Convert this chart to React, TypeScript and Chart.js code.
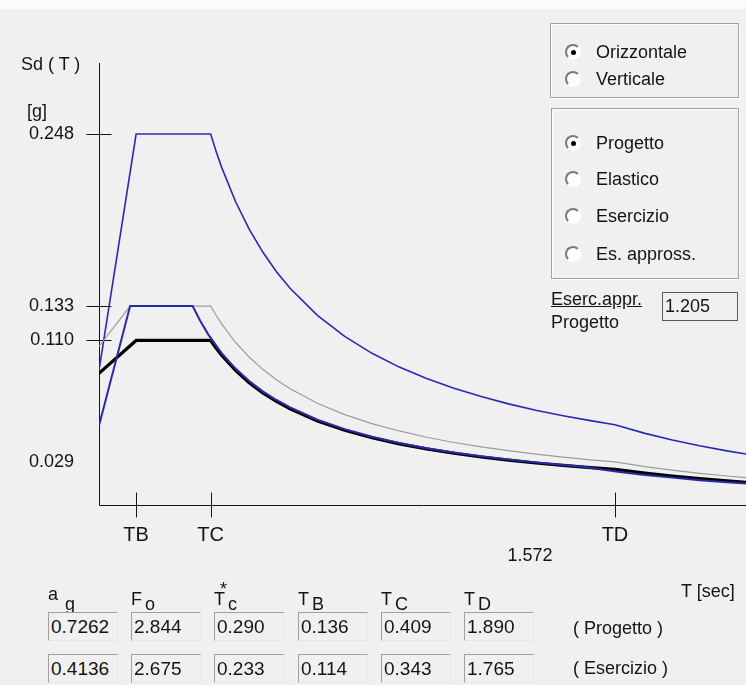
import React, { useEffect, useRef } from 'react';
import { Chart, registerables } from 'chart.js';

Chart.register(...registerables);

const FONT = '"Liberation Sans", Arial, sans-serif';

// ---- Data (periods T [sec], spectral values Sd [g]) ----
const elasticoT = [0, 0.136, 0.409, 0.43, 0.45, 0.5, 0.55, 0.6, 0.65, 0.7, 0.8, 0.9, 1.0, 1.1, 1.2, 1.3, 1.4, 1.5, 1.6, 1.7, 1.8, 1.89, 2.0, 2.1, 2.2, 2.3, 2.37];
const elasticoSd = [0.090, 0.248, 0.248, 0.2359, 0.2254, 0.2029, 0.1844, 0.1691, 0.1560, 0.1449, 0.1268, 0.1127, 0.1014, 0.0922, 0.0845, 0.0780, 0.0725, 0.0676, 0.0634, 0.0597, 0.0564, 0.0537, 0.0479, 0.0435, 0.0396, 0.0362, 0.0341];

const progettoT = [0, 0.136, 0.409, 0.43, 0.45, 0.5, 0.55, 0.6, 0.65, 0.7, 0.8, 0.9, 1.0, 1.1, 1.2, 1.3, 1.4, 1.5, 1.6, 1.7, 1.8, 1.89, 2.0, 2.1, 2.2, 2.3, 2.37];
const progettoSd = [0.088, 0.110, 0.110, 0.1046, 0.1000, 0.0900, 0.0818, 0.0750, 0.0692, 0.0643, 0.0562, 0.0500, 0.0450, 0.0409, 0.0375, 0.0346, 0.0321, 0.0300, 0.0281, 0.0265, 0.0250, 0.0238, 0.0213, 0.0193, 0.0176, 0.0161, 0.0151];

const approxT = [0, 0.114, 0.409, 0.43, 0.45, 0.5, 0.55, 0.6, 0.65, 0.7, 0.8, 0.9, 1.0, 1.1, 1.2, 1.3, 1.4, 1.5, 1.6, 1.7, 1.8, 1.89, 2.0, 2.1, 2.2, 2.3, 2.37];
const approxSd = [0.106, 0.133, 0.133, 0.1265, 0.1209, 0.1088, 0.0989, 0.0907, 0.0837, 0.0777, 0.0680, 0.0604, 0.0544, 0.0495, 0.0453, 0.0418, 0.0389, 0.0363, 0.0340, 0.0320, 0.0302, 0.0288, 0.0257, 0.0233, 0.0212, 0.0194, 0.0183];

const esercizioT = [0, 0.114, 0.343, 0.37, 0.4, 0.45, 0.5, 0.55, 0.6, 0.65, 0.7, 0.8, 0.9, 1.0, 1.1, 1.2, 1.3, 1.4, 1.5, 1.6, 1.7, 1.765, 1.9, 2.0, 2.1, 2.2, 2.3, 2.37];
const esercizioSd = [0.053, 0.133, 0.133, 0.1233, 0.1141, 0.1014, 0.0912, 0.0829, 0.0760, 0.0702, 0.0652, 0.0570, 0.0507, 0.0456, 0.0415, 0.0380, 0.0351, 0.0326, 0.0304, 0.0285, 0.0268, 0.0258, 0.0223, 0.0201, 0.0183, 0.0166, 0.0152, 0.0143];

const yTickValues = [0.029, 0.110, 0.133, 0.248];
const yTickLabels = ['0.029', '0.110', '0.133', '0.248'];
const yMarkedValues = [0.110, 0.133, 0.248];
const xTickValues = [0.136, 0.409, 1.890];
const xTickLabels = ['TB', 'TC', 'TD'];
const X_MAX = 2.37;
const Y_MAX = 0.2955;
const cursorLabel = '1.572';

const paramNames = [
  { main: 'a', sub: 'g', sup: '' },
  { main: 'F', sub: 'o', sup: '' },
  { main: 'T', sub: 'c', sup: '*' },
  { main: 'T', sub: 'B', sup: '' },
  { main: 'T', sub: 'C', sup: '' },
  { main: 'T', sub: 'D', sup: '' },
];
const progettoParams = ['0.7262', '2.844', '0.290', '0.136', '0.409', '1.890'];
const esercizioParams = ['0.4136', '2.675', '0.233', '0.114', '0.343', '1.765'];
const rapportoEsercProg = '1.205';

const axesPlugin = {
  id: 'crossAxes',
  beforeDatasetsDraw(chart: any) {
    const { ctx, chartArea, scales } = chart;
    const x = scales.x;
    const y = scales.y;
    const x0 = Math.round(x.getPixelForValue(0)) + 0.5;
    const y0 = Math.round(y.getPixelForValue(0)) + 0.5;
    ctx.save();
    ctx.strokeStyle = '#141414';
    ctx.lineWidth = 1;
    ctx.beginPath();
    ctx.moveTo(x0, chartArea.top);
    ctx.lineTo(x0, y0);
    ctx.lineTo(chartArea.right + 2, y0);
    yMarkedValues.forEach((v) => {
      const p = Math.round(y.getPixelForValue(v)) + 0.5;
      ctx.moveTo(x0 - 13, p);
      ctx.lineTo(x0 + 12, p);
    });
    xTickValues.forEach((v) => {
      const p = Math.round(x.getPixelForValue(v)) + 0.5;
      ctx.moveTo(p, y0 - 13);
      ctx.lineTo(p, y0 + 12);
    });
    ctx.stroke();
    ctx.restore();
  },
};

const txt = (size: number): React.CSSProperties => ({
  position: 'absolute',
  fontFamily: FONT,
  fontSize: size,
  lineHeight: `${size}px`,
  color: '#141414',
  whiteSpace: 'nowrap',
});

function Label({ x, cy, size = 18, children, style }: any) {
  return <div style={{ ...txt(size), left: x, top: cy - size / 2, ...style }}>{children}</div>;
}

function Radio({ cx, cy, checked }: any) {
  return (
    <div
      style={{
        position: 'absolute',
        left: cx - 8,
        top: cy - 8,
        width: 12,
        height: 12,
        borderRadius: '50%',
        background: '#ffffff',
        borderStyle: 'solid',
        borderWidth: 2,
        borderColor: '#7a7a7a #ffffff #ffffff #7a7a7a',
        boxSizing: 'content-box',
      }}
    >
      {checked && (
        <div
          style={{
            position: 'absolute',
            left: 3.5,
            top: 3.5,
            width: 5,
            height: 5,
            borderRadius: '50%',
            background: '#000',
          }}
        />
      )}
    </div>
  );
}

function GroupBox({ x, y, w, h }: any) {
  return (
    <div
      style={{
        position: 'absolute',
        left: x,
        top: y,
        width: w,
        height: h,
        border: '1px solid #a0a0a0',
        boxShadow: 'inset 1px 1px 0 #ffffff, 1px 1px 0 #ffffff',
        boxSizing: 'border-box',
      }}
    />
  );
}

function ValueBox({ x, y, w, h, value, size = 19, dark = false }: any) {
  return (
    <div
      style={{
        position: 'absolute',
        left: x,
        top: y,
        width: w,
        height: h,
        boxSizing: 'border-box',
        borderStyle: 'solid',
        borderWidth: 1,
        borderColor: dark ? '#5a5a5a' : '#a0a0a0 #e8e8e8 #e8e8e8 #a0a0a0',
        background: '#f0f0f0',
        fontFamily: FONT,
        fontSize: size,
        lineHeight: `${h - 2}px`,
        paddingLeft: 2,
        color: '#141414',
        whiteSpace: 'nowrap',
      }}
    >
      {value}
    </div>
  );
}

export default function App() {
  const canvasRef = useRef<HTMLCanvasElement | null>(null);

  useEffect(() => {
    document.body.style.margin = '0';
    document.body.style.background = '#f0f0f0';
    const canvas = canvasRef.current;
    if (!canvas) return;
    const pts = (ts: number[], vs: number[]) => ts.map((t, i) => ({ x: t, y: vs[i] }));
    const chart = new Chart(canvas, {
      type: 'line',
      data: {
        datasets: [
          { label: 'Esercizio', data: pts(esercizioT, esercizioSd), borderColor: '#2a2aa8', borderWidth: 2, pointRadius: 0, tension: 0 },
          { label: 'Progetto', data: pts(progettoT, progettoSd), borderColor: '#000000', borderWidth: 3.2, pointRadius: 0, tension: 0 },
          { label: 'Es. appross.', data: pts(approxT, approxSd), borderColor: '#9c9c9c', borderWidth: 1.2, pointRadius: 0, tension: 0 },
          { label: 'Elastico', data: pts(elasticoT, elasticoSd), borderColor: '#2a2ab0', borderWidth: 1.6, pointRadius: 0, tension: 0 },
        ],
      },
      options: {
        responsive: false,
        animation: false,
        events: [],
        layout: { padding: { top: 63, right: 0, left: 0, bottom: 0 } },
        plugins: { legend: { display: false }, tooltip: { enabled: false } },
        scales: {
          x: {
            type: 'linear',
            min: 0,
            max: X_MAX,
            grid: { display: false, drawTicks: false },
            border: { display: false },
            afterBuildTicks: (s: any) => {
              s.ticks = xTickValues.map((v) => ({ value: v }));
            },
            afterFit: (s: any) => {
              s.height = 183;
            },
            ticks: {
              autoSkip: false,
              maxRotation: 0,
              padding: 18,
              color: '#141414',
              font: { family: FONT, size: 20 },
              callback: (_v: any, i: number) => xTickLabels[i],
            },
          },
          y: {
            type: 'linear',
            min: 0,
            max: Y_MAX,
            grid: { display: false, drawTicks: false },
            border: { display: false },
            afterBuildTicks: (s: any) => {
              s.ticks = yTickValues.map((v) => ({ value: v }));
            },
            afterFit: (s: any) => {
              s.width = 99;
            },
            ticks: {
              autoSkip: false,
              padding: 25,
              color: '#141414',
              font: { family: FONT, size: 18 },
              callback: (_v: any, i: number) => yTickLabels[i],
            },
          },
        },
      },
      plugins: [axesPlugin],
    });
    return () => chart.destroy();
  }, []);

  const colLefts = [48, 131, 214, 298, 381, 464];

  return (
    <div style={{ position: 'relative', width: 746, height: 688, background: '#f0f0f0', overflow: 'hidden' }}>
      <div style={{ position: 'absolute', left: 0, top: 0, width: 746, height: 9, background: '#fbfbfb' }} />
      <div style={{ position: 'absolute', left: 0, top: 685, width: 746, height: 3, background: '#ffffff' }} />
      <canvas ref={canvasRef} width={746} height={688} style={{ position: 'absolute', left: 0, top: 0 }} />

      <Label x={21} cy={64}>Sd ( T )</Label>
      <Label x={27} cy={111}>[g]</Label>
      <Label x={530} cy={555} style={{ transform: 'translateX(-50%)' }}>{cursorLabel}</Label>
      <Label x={681} cy={591}>T [sec]</Label>

      <GroupBox x={550} y={23} w={189} h={75} />
      <Radio cx={573} cy={52} checked />
      <Label x={596} cy={52}>Orizzontale</Label>
      <Radio cx={573} cy={79} />
      <Label x={596} cy={79}>Verticale</Label>

      <GroupBox x={551} y={108} w={188} h={171} />
      <Radio cx={573} cy={143} checked />
      <Label x={596} cy={143}>Progetto</Label>
      <Radio cx={573} cy={179} />
      <Label x={596} cy={179}>Elastico</Label>
      <Radio cx={573} cy={216} />
      <Label x={596} cy={216}>Esercizio</Label>
      <Radio cx={573} cy={254} />
      <Label x={596} cy={254}>Es. appross.</Label>

      <Label x={551} cy={299} style={{ textDecoration: 'underline' }}>Eserc.appr.</Label>
      <Label x={551} cy={322}>Progetto</Label>
      <ValueBox x={662} y={292} w={76} h={29} value={rapportoEsercProg} size={18} dark />

      {paramNames.map((p, i) => {
        const x = colLefts[i];
        const subDx = p.main === 'a' ? 17 : 14;
        return (
          <React.Fragment key={'lbl' + i}>
            <div style={{ ...txt(18), left: x, top: p.main === 'a' ? 585 : 590 }}>{p.main}</div>
            {p.sup && <div style={{ ...txt(18), left: x + 6, top: 580 }}>{p.sup}</div>}
            <div style={{ ...txt(18), left: x + subDx, top: 595 }}>{p.sub}</div>
          </React.Fragment>
        );
      })}
      {progettoParams.map((v, i) => (
        <ValueBox key={'p' + i} x={colLefts[i]} y={612} w={70} h={29} value={v} />
      ))}
      {esercizioParams.map((v, i) => (
        <ValueBox key={'e' + i} x={colLefts[i]} y={654} w={70} h={29} value={v} />
      ))}
      <Label x={573} cy={628}>( Progetto )</Label>
      <Label x={573} cy={668}>( Esercizio )</Label>
    </div>
  );
}
